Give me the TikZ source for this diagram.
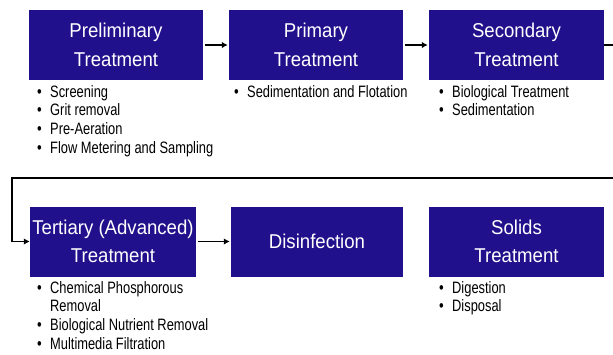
\documentclass[tikz,border=0pt]{standalone}
\usepackage{fontspec}
\setmainfont{Liberation Sans}
\newfontfamily\narrowfont[FakeStretch=0.78]{Liberation Sans}
\newfontfamily\boxfont[FakeStretch=0.93]{Liberation Sans}
\usetikzlibrary{arrows.meta}
\definecolor{stageblue}{RGB}{33,16,140}
\newcommand{\itm}[1]{\makebox[13pt][l]{\fontsize{17}{18.5}\selectfont\textbullet}#1}
\newcommand{\noitm}[1]{\makebox[13pt][l]{}#1}
\begin{document}
\begin{tikzpicture}[x=1pt,y=-1pt,
        stage/.style={fill=stageblue,text=white,inner sep=0pt,minimum width=174pt,minimum height=70pt,
            align=center,font=\boxfont\fontsize{20}{28.5}\selectfont},
        items/.style={anchor=north west,inner sep=0pt,align=left,font=\narrowfont\fontsize{16.5}{18.7}\selectfont},
        flow/.style={line width=1.6pt,-{Latex[length=6pt,width=6.5pt]}}]
            \useasboundingbox (0,0) rectangle (613,354);
            \path[clip] (0,0) rectangle (613,354);
            % first row
            \node[stage] (pre) at (116,45) {Preliminary\\Treatment};
            \node[stage] (pri) at (316,45) {Primary\\Treatment};
            \node[stage,minimum width=175pt] (sec) at (516.5,45) {Secondary\\Treatment};
            \node[items] (prelist) at (37,85) {\itm{Screening}\\\itm{Grit removal}\\\itm{Pre-Aeration}\\\itm{Flow Metering and Sampling}};
            \node[items] (prilist) at (234,85) {\itm{Sedimentation and Flotation}};
            \node[items] (seclist) at (439,85) {\itm{Biological Treatment}\\\itm{Sedimentation}};
            % second row
            \node[stage,minimum width=166pt] (ter) at (113,241.5) {Tertiary (Advanced)\\Treatment};
            \node[stage,minimum width=172pt] (dis) at (317,241.5) {Disinfection};
            \node[stage,minimum width=175pt] (sol) at (516.5,241.5) {Solids\\Treatment};
            \node[items] (terlist) at (37,281) {\itm{Chemical Phosphorous}\\\noitm{Removal}\\\itm{Biological Nutrient Removal}\\\itm{Multimedia Filtration}};
            \node[items] (sollist) at (439,281) {\itm{Digestion}\\\itm{Disposal}};
            % connectors
            \coordinate (turnR) at (630,178);
            \coordinate (turnL) at (12,178);
            \draw[flow,shorten <=2pt,shorten >=1pt] (pre) -- (pri);
            \draw[flow,shorten <=2pt,shorten >=1pt] (pri) -- (sec);
            \draw[flow,shorten <=2pt,shorten >=1pt] (ter) -- (dis);
            \draw[flow] (sec.east) -| (turnR) -- (turnL) |- (ter.west);
\end{tikzpicture}
\end{document}
